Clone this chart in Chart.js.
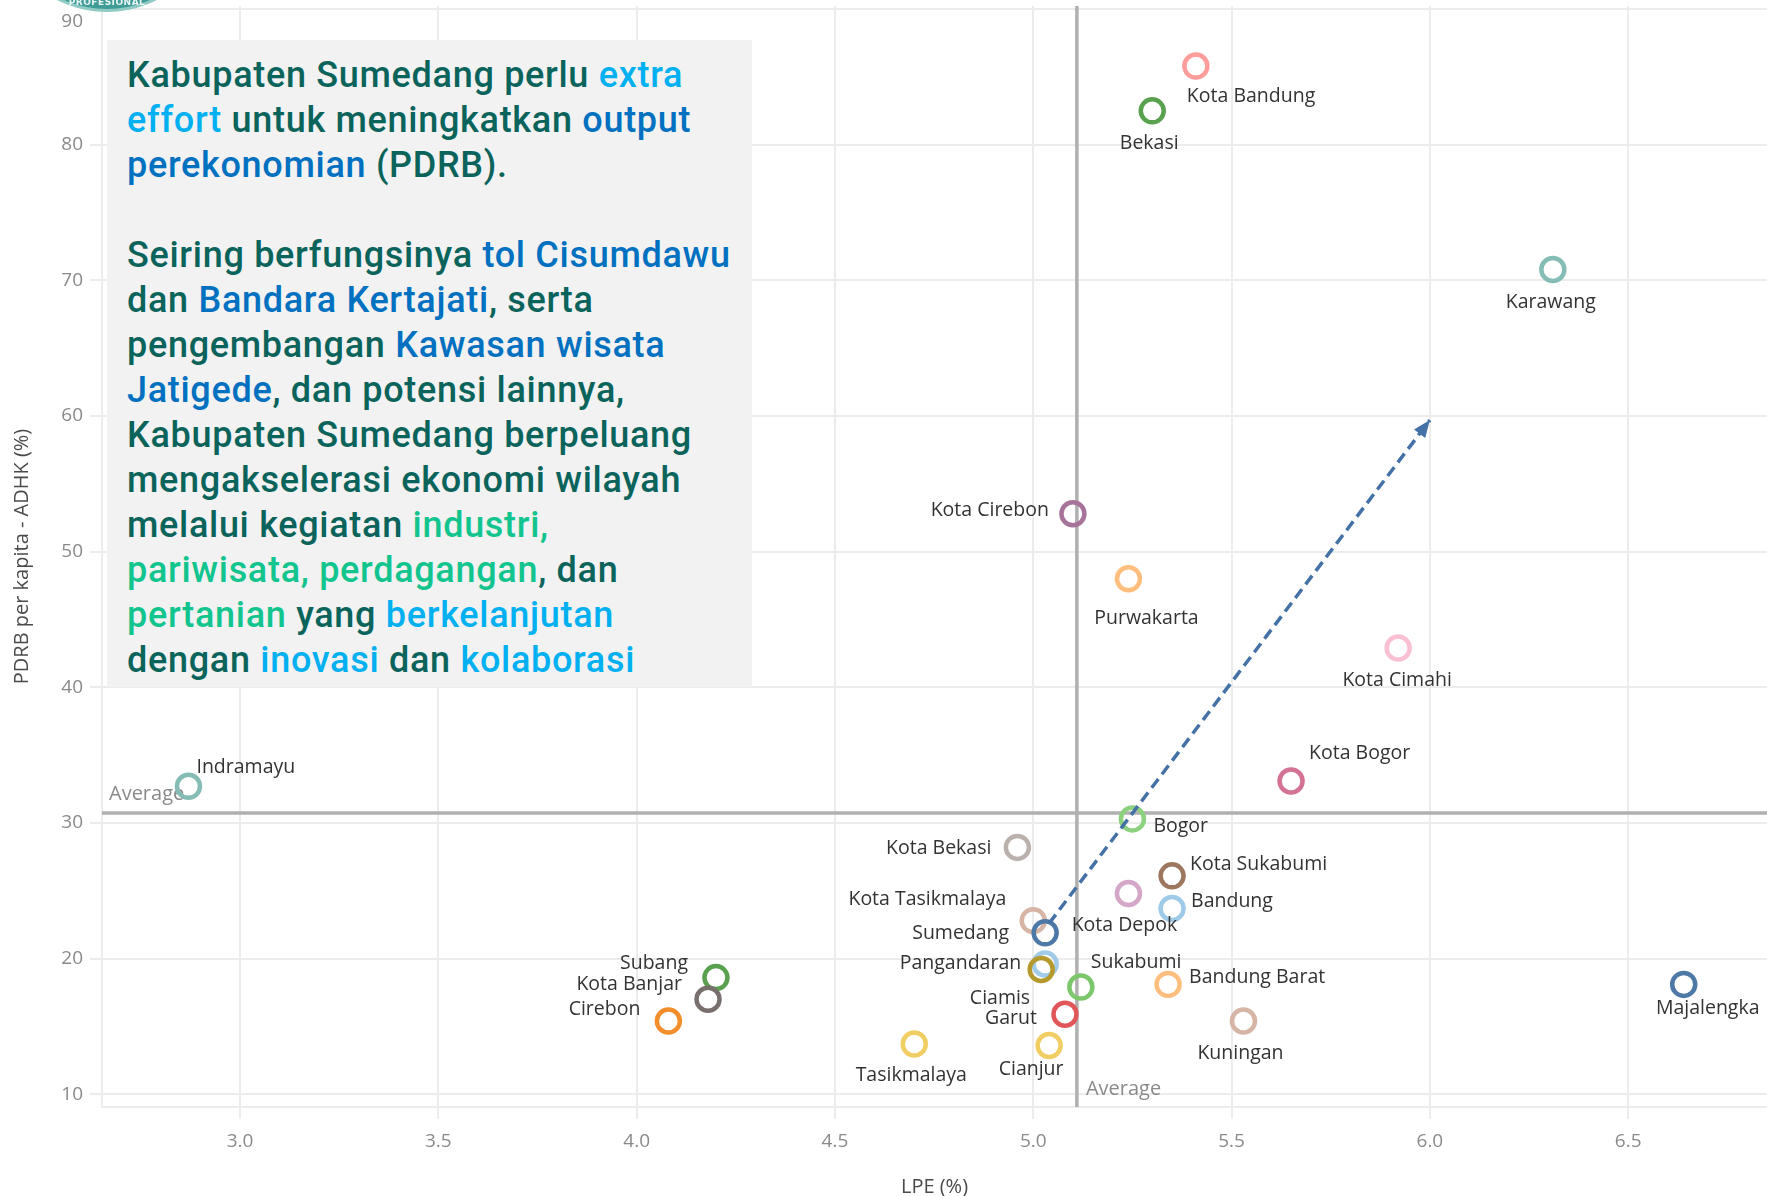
<!DOCTYPE html>
<html>
<head>
<meta charset="utf-8">
<title>LPE vs PDRB per kapita - Jawa Barat</title>
<script src="https://cdn.jsdelivr.net/npm/chart.js@4.4.1/dist/chart.umd.min.js"></script>
<style>
  html, body { margin: 0; padding: 0; background: #fff; }
  #wrap { position: relative; width: 1767px; height: 1196px; overflow: hidden; }
  #chart { position: absolute; left: 0; top: 0; }

  /* partial logo at the top-left corner */
  .logo {
    position: absolute; left: -3px; top: -208px; width: 220px; height: 220px;
    border-radius: 50%; background: #3f9c97; box-sizing: border-box;
    border: 3px solid #8fcac4;
  }
  .logo span {
    position: absolute; left: 0; right: 0; bottom: 2px; text-align: center;
    font: bold 9px "DejaVu Sans", sans-serif; color: #e8f5f3; letter-spacing: 0.5px;
  }

  /* text panel */
  .note {
    position: absolute; left: 107px; top: 40px; width: 645px; height: 647px;
    background: #f2f2f2; box-sizing: border-box; padding: 13px 0 0 20px;
    font-family: Roboto, sans-serif; font-weight: 500; font-size: 36px; line-height: 45px;
    letter-spacing: 0.7px; color: #0a645c; white-space: pre;
  }
  .lb { color: #00b0f0; }
  .db { color: #0070c0; }
  .gr { color: #12c48e; }
</style>
</head>
<body>
<div id="wrap">
  <canvas id="chart" width="1767" height="1196"></canvas>
  <div class="logo"><span>PROFESIONAL</span></div>
  <div class="note">Kabupaten Sumedang perlu <span class="lb">extra</span>
<span class="lb">effort</span> untuk meningkatkan <span class="db">output</span>
<span class="db">perekonomian</span> (PDRB).

Seiring berfungsinya <span class="db">tol Cisumdawu</span>
dan <span class="db">Bandara Kertajati</span>, serta
pengembangan <span class="db">Kawasan wisata</span>
<span class="db">Jatigede</span>, dan potensi lainnya,
Kabupaten Sumedang berpeluang
mengakselerasi ekonomi wilayah
melalui kegiatan <span class="gr">industri,</span>
<span class="gr">pariwisata, perdagangan</span>, dan
<span class="gr">pertanian</span> yang <span class="lb">berkelanjutan</span>
dengan <span class="lb">inovasi</span> dan <span class="lb">kolaborasi</span></div>
</div>

<script>
// ---------------- data ----------------
const regions = [
  'Kota Bandung', 'Bekasi', 'Karawang', 'Kota Cirebon', 'Purwakarta', 'Kota Cimahi',
  'Indramayu', 'Kota Bogor', 'Bogor', 'Kota Bekasi', 'Kota Sukabumi', 'Kota Depok',
  'Bandung', 'Kota Tasikmalaya', 'Sumedang', 'Ciamis', 'Pangandaran', 'Sukabumi',
  'Bandung Barat', 'Garut', 'Kuningan', 'Tasikmalaya', 'Cianjur', 'Subang',
  'Kota Banjar', 'Cirebon', 'Majalengka'
];
// LPE (%)
const lpe = [
  5.41, 5.30, 6.31, 5.10, 5.24, 5.92,
  2.87, 5.65, 5.25, 4.96, 5.35, 5.24,
  5.35, 5.00, 5.03, 5.03, 5.02, 5.12,
  5.34, 5.08, 5.53, 4.70, 5.04, 4.20,
  4.18, 4.08, 6.64
];
// PDRB per kapita - ADHK
const pdrb = [
  85.8, 82.5, 70.8, 52.8, 48.0, 42.9,
  32.7, 33.1, 30.3, 28.2, 26.1, 24.8,
  23.7, 22.8, 21.9, 19.6, 19.2, 17.9,
  18.1, 15.9, 15.4, 13.7, 13.6, 18.6,
  17.0, 15.4, 18.1
];
const avgLpe = 5.11;
const avgPdrb = 30.74;
// dashed arrow from Sumedang towards the upper right
const arrowLpe = [5.04, 6.0];
const arrowPdrb = [22.6, 59.7];

const xTickValues = [3.0, 3.5, 4.0, 4.5, 5.0, 5.5, 6.0, 6.5];
const yTickValues = [10, 20, 30, 40, 50, 60, 70, 80, 90];

// ---------------- styling ----------------
const ringColors = {
  'Kota Bandung': '#ff9d9a', 'Bekasi': '#59a14f', 'Karawang': '#86bcb6',
  'Kota Cirebon': '#a8739a', 'Purwakarta': '#ffbe7d', 'Kota Cimahi': '#fabfd2',
  'Indramayu': '#86bcb6', 'Kota Bogor': '#d37295', 'Bogor': '#8cd17d',
  'Kota Bekasi': '#bab0ac', 'Kota Sukabumi': '#9d7660', 'Kota Depok': '#d4a6c8',
  'Bandung': '#a0cbe8', 'Kota Tasikmalaya': '#d7b5a6', 'Sumedang': '#4e79a7',
  'Ciamis': '#a0cbe8', 'Pangandaran': '#b6992d', 'Sukabumi': '#7cc66c',
  'Bandung Barat': '#ffbe7d', 'Garut': '#e15759', 'Kuningan': '#d7b5a6',
  'Tasikmalaya': '#f1ce63', 'Cianjur': '#f1ce63', 'Subang': '#59a14f',
  'Kota Banjar': '#79706e', 'Cirebon': '#f28e2b', 'Majalengka': '#4e79a7'
};

// label offset from the ring centre [dx, dy, textAlign]
const labelPlacement = {
  'Kota Bandung': [-9, 30, 'left'], 'Bekasi': [-3, 33, 'center'],
  'Karawang': [-2, 33, 'center'], 'Kota Cirebon': [-24, -3, 'right'],
  'Purwakarta': [18, 40, 'center'], 'Kota Cimahi': [-1, 32, 'center'],
  'Indramayu': [8, -19, 'left'], 'Kota Bogor': [18, -27, 'left'],
  'Bogor': [21, 8, 'left'], 'Kota Bekasi': [-26, 1, 'right'],
  'Kota Sukabumi': [18, -11, 'left'], 'Kota Depok': [-4, 32, 'center'],
  'Bandung': [19, -7, 'left'], 'Kota Tasikmalaya': [-27, -21, 'right'],
  'Sumedang': [-36, 1, 'right'], 'Ciamis': [-15, 34, 'right'],
  'Pangandaran': [-20, -6, 'right'], 'Sukabumi': [10, -25, 'left'],
  'Bandung Barat': [21, -7, 'left'], 'Garut': [-28, 4, 'right'],
  'Kuningan': [-3, 32, 'center'], 'Tasikmalaya': [-3, 31, 'center'],
  'Cianjur': [-18, 24, 'center'], 'Subang': [-28, -14, 'right'],
  'Kota Banjar': [-26, -15, 'right'], 'Cirebon': [-28, -12, 'right'],
  'Majalengka': [24, 24, 'center']
};

const GRID = '#ececec';
const TICK_FONT = { family: '"Open Sans", sans-serif', size: 19 };
const TITLE_FONT = { family: '"Open Sans", sans-serif', size: 20 };
const TICK_COLOR = '#8a8a8a';
const REF_COLOR = '#b0b0b0';

// reference (average) lines, drawn under the rings
const averageLines = {
  id: 'averageLines',
  beforeDatasetsDraw(chart) {
    const { ctx, chartArea: a, scales: { x, y } } = chart;
    const px = x.getPixelForValue(avgLpe);
    const py = y.getPixelForValue(avgPdrb);
    ctx.save();
    ctx.strokeStyle = REF_COLOR;
    ctx.lineWidth = 3.5;
    ctx.beginPath();
    ctx.moveTo(a.left, py); ctx.lineTo(a.right, py);
    ctx.moveTo(px, a.top); ctx.lineTo(px, a.bottom);
    ctx.stroke();

    ctx.font = '20px "Open Sans", sans-serif';
    ctx.fillStyle = TICK_COLOR;
    ctx.textBaseline = 'middle';
    ctx.textAlign = 'left';
    ctx.fillText('Average', a.left + 7, py - 19);
    ctx.fillText('Average', px + 9, a.bottom - 18);

    // top y tick label would be cut off by the canvas edge: keep it inside
    const topVal = yTickValues[yTickValues.length - 1];
    ctx.font = '19px "Open Sans", sans-serif';
    ctx.textAlign = 'right';
    ctx.fillText(String(topVal), y.right - 19, Math.max(y.getPixelForValue(topVal), a.top + 16));
    ctx.restore();
  }
};

// arrow head + point labels, drawn on top
const annotations = {
  id: 'annotations',
  afterDatasetsDraw(chart) {
    const { ctx, scales: { x, y } } = chart;
    ctx.save();

    const x0 = x.getPixelForValue(arrowLpe[0]), y0 = y.getPixelForValue(arrowPdrb[0]);
    const x1 = x.getPixelForValue(arrowLpe[1]), y1 = y.getPixelForValue(arrowPdrb[1]);
    const ang = Math.atan2(y1 - y0, x1 - x0);
    const len = 17, half = 7;
    ctx.fillStyle = '#4472a6';
    ctx.beginPath();
    ctx.moveTo(x1, y1);
    ctx.lineTo(x1 - len * Math.cos(ang) + half * Math.sin(ang), y1 - len * Math.sin(ang) - half * Math.cos(ang));
    ctx.lineTo(x1 - len * Math.cos(ang) - half * Math.sin(ang), y1 - len * Math.sin(ang) + half * Math.cos(ang));
    ctx.closePath();
    ctx.fill();

    const meta = chart.getDatasetMeta(1);
    ctx.font = '19.5px "Open Sans", sans-serif';
    ctx.fillStyle = '#333333';
    ctx.textBaseline = 'middle';
    meta.data.forEach((pt, i) => {
      const [dx, dy, align] = labelPlacement[regions[i]];
      ctx.textAlign = align;
      ctx.fillText(regions[i], pt.x + dx, pt.y + dy);
    });
    ctx.restore();
  }
};

const topTick = yTickValues[yTickValues.length - 1];

new Chart(document.getElementById('chart'), {
  data: {
    datasets: [
      {
        type: 'line',
        label: 'arah',
        data: arrowLpe.map((v, i) => ({ x: v, y: arrowPdrb[i] })),
        borderColor: '#4472a6',
        borderWidth: 3.5,
        borderDash: [11, 6],
        pointRadius: 0,
        fill: false,
        order: 0
      },
      {
        type: 'scatter',
        label: 'Kabupaten/Kota',
        data: regions.map((r, i) => ({ x: lpe[i], y: pdrb[i] })),
        pointRadius: 11.5,
        pointBorderWidth: 4.5,
        pointBackgroundColor: 'rgba(255,255,255,0)',
        pointBorderColor: regions.map(r => ringColors[r]),
        order: 1
      }
    ]
  },
  options: {
    responsive: false,
    animation: false,
    layout: { autoPadding: false, padding: { top: 6, right: 0, left: 0, bottom: 0 } },
    plugins: { legend: { display: false }, tooltip: { enabled: false } },
    scales: {
      x: {
        type: 'linear',
        min: 2.652,
        max: 6.85,
        afterBuildTicks: s => { s.ticks = xTickValues.map(v => ({ value: v })); },
        afterFit: s => { s.height = 89; s.paddingLeft = 0; s.paddingRight = 0; },
        ticks: {
          callback: v => Number(v).toFixed(1),
          font: TICK_FONT, color: TICK_COLOR, padding: 11, maxRotation: 0
        },
        grid: { color: GRID, lineWidth: 2, tickLength: 12, tickColor: GRID },
        border: { display: true, color: GRID, width: 2 },
        title: {
          display: true, text: 'LPE (%)', color: '#4a4a4a',
          font: TITLE_FONT, padding: { top: 0, bottom: -3 }
        }
      },
      y: {
        type: 'linear',
        min: 9.06,
        max: 90.23,
        afterBuildTicks: s => { s.ticks = yTickValues.map(v => ({ value: v })); },
        afterFit: s => { s.width = 102; s.paddingTop = 0; s.paddingBottom = 0; },
        ticks: {
          callback: v => (v === topTick ? '' : v),
          font: TICK_FONT, color: TICK_COLOR, padding: 7
        },
        grid: { color: GRID, lineWidth: 2, tickLength: 12, tickColor: GRID },
        border: { display: true, color: GRID, width: 2 },
        title: {
          display: true, text: 'PDRB per kapita - ADHK (%)', color: '#4a4a4a',
          font: TITLE_FONT, padding: { top: 10, bottom: 0 }
        }
      }
    }
  },
  plugins: [averageLines, annotations]
});
</script>
</body>
</html>
